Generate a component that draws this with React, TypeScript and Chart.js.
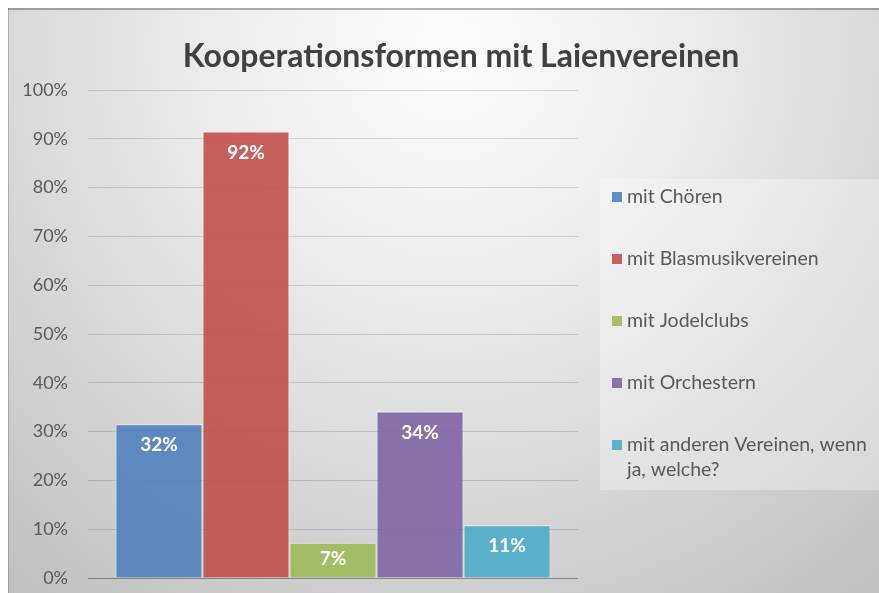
import React, { useEffect, useRef } from "react";
import { Chart, registerables } from "chart.js";

Chart.register(...registerables);

const chartTitle = "Kooperationsformen mit Laienvereinen";
const categories = [""];
const seriesNames = [
  "mit Chören",
  "mit Blasmusikvereinen",
  "mit Jodelclubs",
  "mit Orchestern",
  "mit anderen Vereinen, wenn ja, welche?",
];
const seriesValues = [31.5, 91.5, 7.2, 34.1, 10.8];
const seriesColors = [
  "rgba(79,129,189,0.9)",
  "rgba(192,80,77,0.9)",
  "rgba(155,187,89,0.9)",
  "rgba(128,100,162,0.9)",
  "rgba(75,172,198,0.9)",
];
const yTicks = [0, 10, 20, 30, 40, 50, 60, 70, 80, 90, 100];

const FONT = "Lato, 'Open Sans', sans-serif";

const backgroundPlugin = {
  id: "bgPlugin",
  beforeDraw(chart: any) {
    const { ctx, width, height } = chart;
    ctx.save();
    const g = ctx.createRadialGradient(440, 40, 0, 440, 40, 720);
    g.addColorStop(0, "#fcfcfc");
    g.addColorStop(0.3, "#eeeeee");
    g.addColorStop(1, "#bdbdbd");
    ctx.fillStyle = g;
    ctx.fillRect(0, 0, width, height);
    // legend box
    ctx.fillStyle = "rgba(255,255,255,0.3)";
    ctx.fillRect(592, 171, width - 592, 311);
    // frame
    ctx.fillStyle = "rgba(0,0,0,0.28)";
    ctx.fillRect(0, 0, width, 2);
    ctx.fillStyle = "rgba(0,0,0,0.18)";
    ctx.fillRect(0, 0, 1, height);
    // title
    ctx.fillStyle = "#404040";
    ctx.font = `bold 32px ${FONT}`;
    ctx.textAlign = "center";
    ctx.textBaseline = "middle";
    ctx.fillText(chartTitle, 453, 49);
    ctx.restore();
  },
};

const labelsAndLegendPlugin = {
  id: "labelsLegend",
  afterDatasetsDraw(chart: any) {
    const { ctx } = chart;
    ctx.save();
    ctx.font = `bold 19px ${FONT}`;
    ctx.fillStyle = "#ffffff";
    ctx.textAlign = "center";
    ctx.textBaseline = "middle";
    chart.data.datasets.forEach((ds: any, i: number) => {
      const meta = chart.getDatasetMeta(i);
      const el: any = meta.data[0];
      if (!el) return;
      const v = ds.data[0];
      const y = Math.min(el.y + 21, el.base - 19);
      ctx.fillText(Math.round(v) + "%", el.x, y);
    });
    ctx.restore();
  },
  afterDraw(chart: any) {
    const { ctx, width } = chart;
    ctx.save();
    ctx.font = `19.5px ${FONT}`;
    ctx.textAlign = "left";
    ctx.textBaseline = "middle";
    const textX = 619;
    const maxW = width - textX - 2;
    const startY = 189;
    const step = 62;
    chart.data.datasets.forEach((ds: any, i: number) => {
      const y = startY + i * step;
      ctx.fillStyle = ds.backgroundColor;
      ctx.fillRect(604, y - 5, 10, 10);
      ctx.fillStyle = "#595959";
      const words = String(ds.label).split(" ");
      const lines: string[] = [];
      let cur = "";
      words.forEach((w) => {
        const test = cur ? cur + " " + w : w;
        if (ctx.measureText(test).width > maxW && cur) {
          lines.push(cur);
          cur = w;
        } else cur = test;
      });
      if (cur) lines.push(cur);
      lines.forEach((ln, k) => ctx.fillText(ln, textX, y + k * 25));
    });
    ctx.restore();
  },
};

export default function App() {
  const ref = useRef<HTMLCanvasElement | null>(null);
  useEffect(() => {
    if (!ref.current) return;
    const chart = new Chart(ref.current, {
      type: "bar",
      data: {
        labels: categories,
        datasets: seriesNames.map((name, i) => ({
          label: name,
          data: [seriesValues[i]],
          backgroundColor: seriesColors[i],
          borderColor: "rgba(255,255,255,0.55)",
          borderWidth: 1,
          categoryPercentage: 0.888,
          barPercentage: 1,
        })),
      },
      options: {
        responsive: true,
        maintainAspectRatio: false,
        animation: false,
        layout: { padding: { left: 0, top: 82, right: 301, bottom: 15 } },
        plugins: {
          legend: { display: false },
          title: { display: false },
          tooltip: { enabled: false },
        },
        scales: {
          x: { display: false },
          y: {
            min: 0,
            max: 100,
            afterBuildTicks: (s: any) => {
              s.ticks = yTicks.map((v) => ({ value: v }));
            },
            afterFit: (s: any) => {
              s.width = 80;
            },
            ticks: {
              callback: (v: any) => v + "%",
              font: { family: FONT, size: 18 },
              color: "#595959",
              padding: 4,
            },
            grid: {
              drawTicks: true,
              tickLength: 16,
              tickColor: "rgba(0,0,0,0)",
              color: (c: any) =>
                c.tick && c.tick.value === 0 ? "rgba(0,0,0,0.35)" : "rgba(0,0,0,0.13)",
              lineWidth: 1,
            },
            border: { display: false },
          },
        },
      },
      plugins: [backgroundPlugin, labelsAndLegendPlugin],
    });
    return () => chart.destroy();
  }, []);
  return (
    <div style={{ position: "fixed", left: 8, top: 8, width: 871, height: 585 }}>
      <canvas ref={ref} />
    </div>
  );
}
